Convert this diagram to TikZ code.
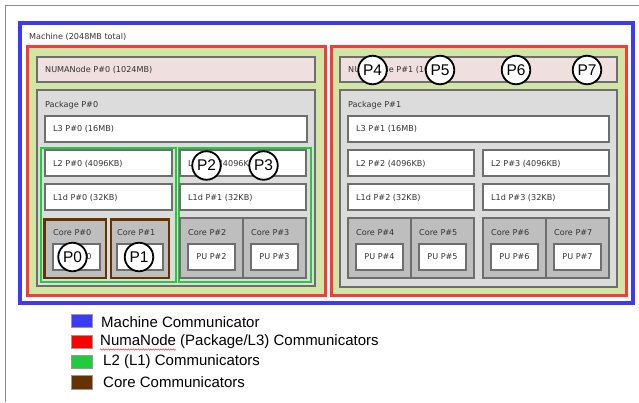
\documentclass[tikz,border=0pt]{standalone}
\usepackage{fontspec}
\setmainfont{DejaVu Sans}
\newfontfamily\legendfont{Liberation Sans}
\usepackage{xcolor}
\usepackage{tikz}
\usetikzlibrary{decorations.pathmorphing}

\definecolor{commblue}{HTML}{3A3AF8}
\definecolor{commred}{HTML}{F83A3A}
\definecolor{commgreen}{HTML}{1ECC3C}
\definecolor{commbrown}{HTML}{663300}
\definecolor{numafill}{HTML}{EFDFDE}
\definecolor{groupfill}{HTML}{D2E5A4}
\definecolor{pkgfill}{HTML}{DCDCDC}
\definecolor{corefill}{HTML}{BEBEBE}
\definecolor{boxline}{HTML}{6E6E6E}

\begin{document}
\begin{tikzpicture}[
					x=1pt, y=-1pt,
					box/.style={draw=boxline, line width=1.3pt},
					cache/.style={box, fill=white},
					core/.style={box, fill=corefill},
					hicore/.style={draw=commbrown, line width=2.6pt, fill=corefill},
					grp/.style={draw=commgreen, line width=2pt},
					lbl/.style={anchor=west, inner sep=0pt, text=black!80,
						font=\fontsize{8.1}{10}\selectfont},
					pu/.style={inner sep=0pt, text=black!80,
						font=\fontsize{8.1}{10}\selectfont},
					proc/.style={
						circle, draw=black, line width=1.8pt, fill=white,
						inner sep=0pt, minimum size=28.5pt,
						font=\legendfont\fontsize{15.5}{18}\selectfont
					},
					key/.style={draw=black!40, line width=0.6pt},
					keytext/.style={anchor=west, inner sep=0pt,
						font=\legendfont\fontsize{15}{18}\selectfont}
					]
					\useasboundingbox (0,0) rectangle (639,402);
					
					% outer frame
					\draw[black!45, line width=1.2pt] (5.5,402) -- (5.5,5.5) -- (639,5.5);
					
					% --- MACHINE ---
					\draw[commblue, line width=4pt] (20,22.5) rectangle (633,302.5);
					\node[lbl] (machine) at (29,36.5) {Machine (2048MB total)};
					
					% --- NUMANODE 0 ---
					\draw[commred, fill=groupfill, line width=3pt] (27.5,46.5) rectangle (325,295);
					\draw[box, fill=numafill] (37,57) rectangle (315,82);
					\node[lbl] (numa0) at (45,70) {NUMANode P\#0 (1024MB)};
					\draw[box, fill=pkgfill] (37,90) rectangle (315,286);
					\node[lbl] (pkg0) at (45,105) {Package P\#0};
					\draw[cache] (45,116) rectangle (307,142);
					\node[lbl] (l3a) at (53,129) {L3 P\#0 (16MB)};
					
					\draw[grp] (41,147.5) rectangle (176,282);
					\draw[cache] (45,150) rectangle (172,176);
					\node[lbl] (l2a) at (53,163.5) {L2 P\#0 (4096KB)};
					\draw[cache] (45,184) rectangle (172,210);
					\node[lbl] (l1a) at (53,197.5) {L1d P\#0 (32KB)};
					\draw[hicore] (44.5,219.5) rectangle (106,278);
					\node[lbl] (core0) at (53,232.5) {Core P\#0};
					\draw[cache] (53,244) rectangle (100,270);
					\node[pu] (pu0) at (76.5,257) {PU P\#0};
					\draw[hicore] (111,219.5) rectangle (169,278);
					\node[lbl] (core1) at (117,232.5) {Core P\#1};
					\draw[cache] (117,244) rectangle (163,270);
					\node[pu] (pu1) at (140,257) {PU P\#1};
					
					\draw[grp] (179,147.5) rectangle (311,282);
					\draw[cache] (180,150) rectangle (306,176);
					\node[lbl] (l2b) at (188,163.5) {L2 P\#1 (4096KB)};
					\draw[cache] (180,184) rectangle (306,210);
					\node[lbl] (l1b) at (188,197.5) {L1d P\#1 (32KB)};
					\draw[core] (180,218) rectangle (243,278);
					\node[lbl] (core2) at (188,232.5) {Core P\#2};
					\draw[cache] (188,244) rectangle (235,270);
					\node[pu] (pu2) at (211.5,257) {PU P\#2};
					\draw[core] (243,218) rectangle (306,278);
					\node[lbl] (core3) at (251,232.5) {Core P\#3};
					\draw[cache] (251,244) rectangle (298,270);
					\node[pu] (pu3) at (274.5,257) {PU P\#3};
					
					% --- NUMANODE 1 ---
					\draw[commred, fill=groupfill, line width=3pt] (331.5,46.5) rectangle (626.5,295);
					\draw[box, fill=numafill] (340,57) rectangle (617,82);
					\node[lbl] (numa1) at (348,70) {NUMANode P\#1 (1024MB)};
					\draw[box, fill=pkgfill] (340,90) rectangle (617,287);
					\node[lbl] (pkg1) at (348,105) {Package P\#1};
					\draw[cache] (348,116) rectangle (609,142);
					\node[lbl] (l3b) at (356,129) {L3 P\#1 (16MB)};
					
					\draw[cache] (348,150) rectangle (474,176);
					\node[lbl] (l2c) at (356,163.5) {L2 P\#2 (4096KB)};
					\draw[cache] (483,150) rectangle (609,176);
					\node[lbl] (l2d) at (491,163.5) {L2 P\#3 (4096KB)};
					\draw[cache] (348,184) rectangle (474,210);
					\node[lbl] (l1c) at (356,197.5) {L1d P\#2 (32KB)};
					\draw[cache] (483,184) rectangle (609,210);
					\node[lbl] (l1d) at (491,197.5) {L1d P\#3 (32KB)};
					
					\draw[core] (348,218) rectangle (411,278);
					\node[lbl] (core4) at (356,232.5) {Core P\#4};
					\draw[cache] (356,244) rectangle (403,270);
					\node[pu] (pu4) at (379.5,257) {PU P\#4};
					\draw[core] (411,218) rectangle (474,278);
					\node[lbl] (core5) at (419,232.5) {Core P\#5};
					\draw[cache] (419,244) rectangle (466,270);
					\node[pu] (pu5) at (442.5,257) {PU P\#5};
					\draw[core] (483,218) rectangle (546,278);
					\node[lbl] (core6) at (491,232.5) {Core P\#6};
					\draw[cache] (491,244) rectangle (538,270);
					\node[pu] (pu6) at (514.5,257) {PU P\#6};
					\draw[core] (546,218) rectangle (609,278);
					\node[lbl] (core7) at (554,232.5) {Core P\#7};
					\draw[cache] (554,244) rectangle (601,270);
					\node[pu] (pu7) at (577.5,257) {PU P\#7};
					
					% --- PROCESSES ---
					\node[proc] (p0) at (72.5,257) {P0};
					\node[proc] (p1) at (139,257) {P1};
					\node[proc] (p2) at (206.5,165.5) {P2};
					\node[proc] (p3) at (263.5,165.5) {P3};
					\node[proc] (p4) at (372.5,70) {P4};
					\node[proc] (p5) at (440,70) {P5};
					\node[proc] (p6) at (516,70) {P6};
					\node[proc] (p7) at (587,70) {P7};
					
					% --- LEGEND ---
					\draw[key, fill=commblue] (71,314) rectangle (92,327);
					\node[keytext] (kmachine) at (101,322) {Machine Communicator};
					\draw[key, fill=red] (71,335) rectangle (92,348);
					\node[keytext] (knuma) at (100,342) {NumaNode (Package/L3) Communicators};
					\draw[red!80, line width=0.5pt, decorate,
						decoration={snake, amplitude=0.7pt, segment length=2.5pt}] (100,349.5) -- (176,349.5);
					\draw[key, fill=commgreen] (71,355) rectangle (92,368);
					\node[keytext] (kl2) at (103,362) {L2 (L1) Communicators};
					\draw[key, fill=commbrown] (71,375) rectangle (92,389);
					\node[keytext] (kcore) at (103,382) {Core Communicators};
					
\end{tikzpicture}
\end{document}
